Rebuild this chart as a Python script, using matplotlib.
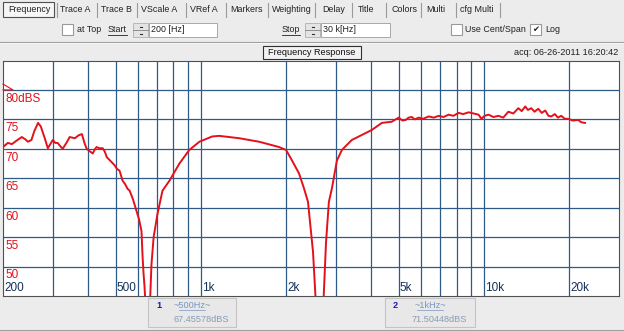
import matplotlib
matplotlib.use("Agg")
import matplotlib.pyplot as plt
from matplotlib.patches import Rectangle
from matplotlib.transforms import blended_transform_factory

plt.rcParams["font.family"] = ["Liberation Sans", "DejaVu Sans"]

freq_hz = [
    200, 208, 215, 225, 233, 240, 245, 252, 258, 266, 272, 280, 288, 300,
    306, 312, 318, 325, 335, 344, 352, 359, 370, 380, 388, 395, 405, 415,
    422, 428, 438, 450, 458, 465, 480, 496, 505, 516, 529, 540, 551, 560,
    575, 593, 605, 617, 622, 627, 632, 640, 659, 669, 681, 703, 732, 775,
    840, 910, 988, 1097, 1161, 1366, 1607, 1889, 2000, 2100, 2223, 2313,
    2390, 2490, 2560, 2700, 2767, 2833, 2904, 3024, 3149, 3414, 3826, 4017,
    4357, 4725, 5000, 5150, 5292, 5420, 5559, 5700, 5880, 6100, 6378, 6650,
    6917, 7200, 7502, 7800, 8136, 8450, 8825, 9200, 9570, 9800, 10050,
    10380, 10800, 11250, 11700, 12200, 12700, 13230, 13600, 13990, 14300,
    14690, 15100, 15550, 16000, 16470, 16900, 17290, 17800, 18250, 18750,
    19300, 19840, 20600, 21510, 22100, 22760,
]
level_db = [
    70.3, 71.0, 70.8, 71.5, 72.0, 71.6, 71.2, 71.5, 73.0, 74.4, 73.8, 72.0,
    70.1, 71.5, 71.0, 71.0, 70.5, 70.0, 71.0, 72.0, 71.9, 71.8, 72.3, 72.5,
    71.0, 70.0, 69.6, 69.2, 69.9, 70.3, 70.1, 70.1, 69.5, 68.6, 67.9, 67.2,
    66.6, 66.3, 64.6, 64.0, 63.2, 62.9, 61.5, 59.4, 58.0, 56.0, 52.0, 49.0,
    46.8, 42.0, 42.0, 50.3, 55.0, 59.0, 62.9, 64.6, 67.5, 69.8, 71.2, 72.1,
    72.2, 71.8, 71.2, 70.3, 69.8, 68.0, 65.8, 63.3, 61.0, 52.5, 42.0, 42.0,
    54.0, 61.0, 63.3, 68.0, 69.8, 71.5, 72.7, 73.2, 74.4, 74.6, 75.3, 74.8,
    74.9, 75.3, 75.4, 75.0, 75.3, 75.1, 75.5, 75.3, 75.6, 75.4, 75.8, 75.6,
    76.1, 75.9, 76.2, 76.0, 75.8, 75.1, 75.6, 75.8, 75.4, 75.6, 75.3, 76.3,
    76.0, 76.9, 76.4, 77.2, 76.6, 76.9, 76.3, 76.8, 76.1, 76.5, 75.6, 75.5,
    75.9, 75.3, 75.6, 75.1, 75.1, 74.8, 74.9, 74.5, 74.4,
]

grid_freqs = [300, 400, 500, 600, 700, 800, 900, 1000, 2000, 3000, 4000,
              5000, 6000, 7000, 8000, 9000, 10000, 20000]
x_tick_vals = [200, 500, 1000, 2000, 5000, 10000, 20000]
x_tick_text = ["200", "500", "1k", "2k", "5k", "10k", "20k"]
y_tick_vals = [80, 75, 70, 65, 60, 55, 50]
y_tick_text = ["80dBS", "75", "70", "65", "60", "55", "50"]

tabs = ["Frequency", "Trace A", "Trace B", "VScale A", "VRef A", "Markers",
        "Weighting", "Delay", "Title", "Colors", "Multi", "cfg Multi"]
tab_x = [8, 60, 101, 141, 190, 230, 272, 322, 358, 391, 426, 460]
tab_sep = [57, 97, 137, 186, 226, 268, 315, 352, 386, 421, 456, 500]

W, H = 624, 331
GRID = "#2E5A87"
RED = "#E4101A"
NAVY = "#16305A"
UI_FONT = 6.6
CTRL_FONT = 6.4

fig = plt.figure(figsize=(W / 100, H / 100), dpi=100)
fig.patch.set_facecolor("#ECECEC")

# pixel-coordinate layer for the window chrome
ui = fig.add_axes([0, 0, 1, 1], zorder=0)
ui.set_xlim(0, W)
ui.set_ylim(H, 0)
ui.axis("off")

# tab bar
ui.add_patch(Rectangle((3, 2), 51, 15, facecolor="#F6F6F6",
                       edgecolor="#505050", lw=0.8))
for label, x in zip(tabs, tab_x):
    ui.text(x, 10, label, fontsize=CTRL_FONT, va="center", ha="left",
            color="#202020")
for x in tab_sep:
    ui.plot([x, x], [3, 17], color="#9A9A9A", lw=0.8)

# controls row
def checkbox(x, checked=False):
    ui.add_patch(Rectangle((x, 24), 11, 11, facecolor="white",
                           edgecolor="#9A9A9A", lw=0.8))
    if checked:
        ui.text(x + 5.5, 29.5, "✔", fontsize=6, ha="center", va="center",
                color="#202020", family="DejaVu Sans")


def spinner(x):
    ui.add_patch(Rectangle((x, 23), 15, 14, facecolor="#E4E4E4",
                           edgecolor="#B0B0B0", lw=0.6))
    ui.plot([x, x + 15], [30, 30], color="#808080", lw=0.6)
    ui.plot([x + 6.5, x + 8.5], [26.5, 26.5], color="#303030", lw=0.8)
    ui.plot([x + 6.5, x + 8.5], [33.5, 33.5], color="#303030", lw=0.8)


def textbox(x, w, s):
    ui.add_patch(Rectangle((x, 23), w, 14, facecolor="white",
                           edgecolor="#A8A8A8", lw=0.7))
    ui.text(x + 2, 30, s, fontsize=CTRL_FONT, va="center", color="#202020")


def underlined(x, s, w):
    ui.text(x, 29.5, s, fontsize=CTRL_FONT, va="center", color="#202020")
    ui.plot([x, x + w], [35, 35], color="#202020", lw=0.6)


checkbox(62)
ui.text(77, 29.5, "at Top", fontsize=CTRL_FONT, va="center", color="#202020")
underlined(108, "Start", 19)
spinner(133)
textbox(149, 68, "200 [Hz]")
underlined(282, "Stop", 18)
spinner(305)
textbox(321, 69, "30 k[Hz]")
checkbox(451)
ui.text(465, 29.5, "Use Cent/Span", fontsize=CTRL_FONT, va="center",
        color="#202020")
checkbox(530, checked=True)
ui.text(545, 29.5, "Log", fontsize=CTRL_FONT, va="center", color="#202020")

ui.plot([0, W], [42, 42], color="#A0A0A0", lw=0.8)
ui.plot([0, W], [43, 43], color="#FAFAFA", lw=0.6)

# title strip
ui.add_patch(Rectangle((263, 45.5), 98, 13.5, facecolor="#F2F2F2",
                       edgecolor="#303030", lw=0.8))
ui.text(312, 52.5, "Frequency Response", fontsize=UI_FONT, ha="center",
        va="center", color="#101010")
ui.text(618, 52.5, "acq: 06-26-2011 16:20:42", fontsize=UI_FONT,
        ha="right", va="center", color="#202020")

# marker readouts below the plot
markers = [
    (148, 88, "1", "~500Hz~", "67.45578dBS"),
    (385, 90, "2", "~1kHz~", "71.50448dBS"),
]
for x0, w, num, freq_txt, val_txt in markers:
    ui.add_patch(Rectangle((x0, 298), w, 29, facecolor="#E8E8E8",
                           edgecolor="#C4C4C4", lw=0.8))
    ui.text(x0 + 8, 306, num, fontsize=UI_FONT, fontweight="bold",
            color="#1A1AB0", va="center")
    cx = x0 + w * 0.5
    ui.text(cx, 305, freq_txt, fontsize=UI_FONT, color="#7896C4",
            ha="center", va="center")
    ui.plot([cx - 13, cx + 13], [310, 310], color="#7896C4", lw=0.5)
    ui.text(x0 + w * 0.6, 320, val_txt, fontsize=UI_FONT, color="#8A9AB4",
            ha="center", va="center")
ui.plot([0, W], [329.5, 329.5], color="#A0A0A0", lw=0.8)

# plot area
ax = fig.add_axes([3 / W, 35 / H, 616 / W, 235.5 / H], zorder=1)
ax.set_facecolor("white")
ax.set_xscale("log")
ax.set_xlim(200, 30000)
ax.set_ylim(45, 85)
ax.set_xticks([])
ax.set_yticks([])
ax.minorticks_off()
for s in ax.spines.values():
    s.set_color("#505050")
    s.set_linewidth(0.8)

for f in grid_freqs:
    ax.axvline(f, color=GRID, lw=0.9, zorder=1)
for v in y_tick_vals:
    ax.axhline(v, color=GRID, lw=0.9, zorder=1)

ax.plot(freq_hz, level_db, color=RED, lw=1.4, zorder=3)

ytr = blended_transform_factory(ax.transAxes, ax.transData)
for v, s in zip(y_tick_vals, y_tick_text):
    ax.text(2 / 616, v - 1.5, s, transform=ytr, fontsize=8.5, color=RED,
            ha="left", va="center", zorder=4)
for v, s in zip(x_tick_vals, x_tick_text):
    ax.text(v * 1.008, 46.3, s, fontsize=8.5, color=NAVY, ha="left",
            va="center", zorder=4)

# reference level marker
ax.plot([0, 10 / 616, 0], [81, 80, 80], transform=ytr, color=RED, lw=0.8,
        zorder=4, clip_on=False)

fig.savefig("out.png", dpi=100, facecolor=fig.get_facecolor())
